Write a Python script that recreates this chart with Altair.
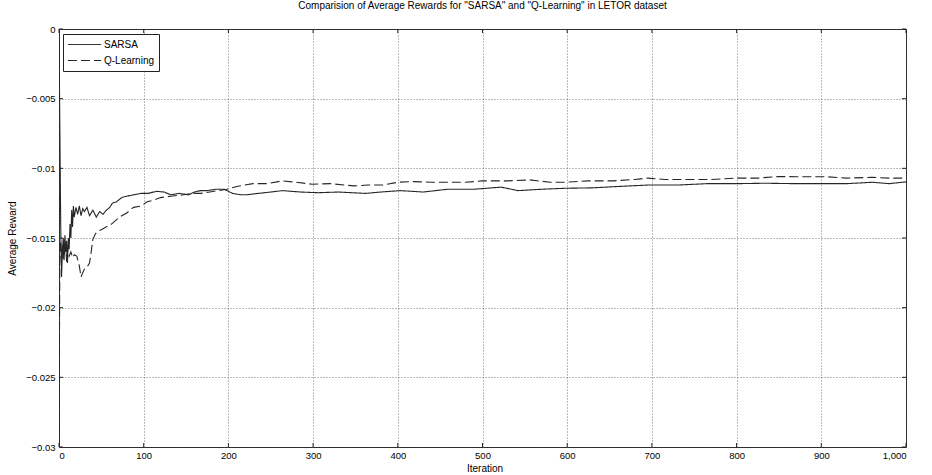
import altair as alt
import pandas as pd

# ---------------- data ----------------
sarsa_iter = [0, 1, 2, 3, 4, 5, 6, 7, 8, 9, 10, 11, 12, 13, 14, 15, 16, 17, 18,
              20, 22, 24, 26, 28, 30, 33, 36, 40, 44, 48, 52, 56, 60, 63, 68, 74,
              80, 88, 97, 105, 115, 124, 132, 142, 153, 160, 167, 175, 185, 195,
              205, 215, 222, 235, 250, 264, 285, 306, 330, 362, 380, 403, 430, 459,
              490, 522, 542, 570, 598, 630, 661, 695, 730, 765, 800, 834, 870, 904,
              930, 960, 980, 1000]
sarsa_val = [-0.0003, -0.0072, -0.0140, -0.0178, -0.0160, -0.0150, -0.0166, -0.0148,
             -0.0160, -0.0152, -0.0168, -0.0150, -0.0158, -0.0140, -0.0150, -0.0130,
             -0.0142, -0.0127, -0.0135,
             -0.0128, -0.0133, -0.0127, -0.0134, -0.0129, -0.0131, -0.0128, -0.0134,
             -0.0130, -0.0135, -0.0131, -0.0133, -0.0130, -0.0128, -0.0125, -0.0124,
             -0.0121,
             -0.0120, -0.0119, -0.0118, -0.0118, -0.01165, -0.0117, -0.0119, -0.0118,
             -0.0119, -0.0117, -0.0116, -0.0116, -0.0115, -0.0115,
             -0.0118, -0.0119, -0.0119, -0.0118, -0.0117, -0.0116, -0.0117, -0.01175,
             -0.0117, -0.0118, -0.0117, -0.0116, -0.0117, -0.0115,
             -0.0115, -0.01135, -0.0116, -0.0115, -0.01143, -0.0114, -0.0113, -0.0112,
             -0.0112, -0.0111, -0.0111, -0.01107, -0.0111, -0.0111,
             -0.0111, -0.0110, -0.0111, -0.01097]

qlearn_iter = [0, 1, 2, 3, 4, 5, 6, 7, 8, 9, 10, 12, 14, 16, 18, 21, 24, 26, 28, 31,
               34, 36, 38, 40, 43, 45, 50, 56, 62, 72, 80, 88, 97, 104, 111, 120,
               132, 147, 156, 167, 178, 188, 198, 210, 229, 245, 264, 280, 299, 320,
               348, 365, 382, 400, 417, 440, 459, 480, 500, 530, 556, 580, 598, 625,
               654, 680, 695, 715, 737, 770, 800, 825, 848, 870, 904, 930, 960, 980,
               1000]
qlearn_val = [-0.0300, -0.0160, -0.0152, -0.0168, -0.0155, -0.0165, -0.0151, -0.0162,
              -0.0156, -0.0167, -0.0158, -0.0163, -0.0160, -0.0164, -0.0162, -0.0163,
              -0.0170, -0.0178, -0.0175, -0.0171,
              -0.0170, -0.0168, -0.0160, -0.0151, -0.0147, -0.01455, -0.0144, -0.0142,
              -0.0140, -0.01347, -0.0132, -0.0128, -0.0127, -0.0124, -0.0123, -0.0121,
              -0.0120, -0.0119, -0.0118, -0.0118, -0.0117, -0.0116, -0.0115, -0.0113,
              -0.0111, -0.0111, -0.0109, -0.0110, -0.01114, -0.0111,
              -0.01126, -0.0112, -0.0112, -0.0110, -0.01095, -0.0110, -0.0110, -0.0110,
              -0.0109, -0.0109, -0.01083, -0.0110, -0.0110, -0.0109,
              -0.0109, -0.0108, -0.0107, -0.0108, -0.0108, -0.0108, -0.0107, -0.0107,
              -0.01059, -0.0106, -0.0106, -0.0107, -0.01065, -0.0107,
              -0.0107]

series_names = ["SARSA", "Q-Learning"]
x_ticks = [0, 100, 200, 300, 400, 500, 600, 700, 800, 900, 1000]
y_ticks = [0, -0.005, -0.01, -0.015, -0.02, -0.025, -0.03]

title_text = 'Comparision of Average Rewards for "SARSA" and "Q-Learning" in LETOR dataset'

# ---------------- build tables ----------------
df = pd.concat([
    pd.DataFrame({"Iteration": sarsa_iter, "Reward": sarsa_val, "Series": series_names[0]}),
    pd.DataFrame({"Iteration": qlearn_iter, "Reward": qlearn_val, "Series": series_names[1]}),
])
df["order"] = range(len(df))
xt = pd.DataFrame({"t": x_ticks})
yt = pd.DataFrame({"t": y_ticks})

W, H = 847, 418
FONT = "Liberation Sans"
LINE_COLOR = "#262626"

xscale = alt.Scale(domain=[0, 1000], nice=False, zero=False)
yscale = alt.Scale(domain=[-0.03, 0], nice=False, zero=False)


def make_legend():
    return alt.Legend(title=None, orient="none", legendX=4, legendY=5,
                      symbolType="stroke", symbolSize=1100, clipHeight=13,
                      symbolStrokeWidth=1, symbolStrokeColor=LINE_COLOR,
                      labelFontSize=10, labelFont=FONT, labelColor="black",
                      strokeColor="#222", fillColor="white",
                      padding=4, rowPadding=3, labelOffset=2)


lines = alt.Chart(df).mark_line(strokeWidth=1.1, clip=True).encode(
    x=alt.X("Iteration:Q", scale=xscale,
            axis=alt.Axis(values=x_ticks, format=",d", title="Iteration",
                          titleX=W / 2 + 2, titleY=21, titleBaseline="middle")),
    y=alt.Y("Reward:Q", scale=yscale,
            axis=alt.Axis(values=y_ticks, format="~g", title="Average Reward",
                          titleX=-47, titleY=H / 2, titleBaseline="middle",
                          titleAlign="center")),
    color=alt.Color("Series:N",
                    scale=alt.Scale(domain=series_names, range=[LINE_COLOR, LINE_COLOR]),
                    legend=make_legend()),
    strokeDash=alt.StrokeDash("Series:N",
                              scale=alt.Scale(domain=series_names, range=[[1, 0], [9, 4]]),
                              legend=make_legend()),
    order="order:Q",
)

tick_len = 4
xt_bottom = alt.Chart(xt).mark_rule(color="#222", strokeWidth=1).encode(
    x=alt.X("t:Q", scale=xscale), y=alt.value(H), y2=alt.value(H - tick_len))
xt_top = alt.Chart(xt).mark_rule(color="#222", strokeWidth=1).encode(
    x=alt.X("t:Q", scale=xscale), y=alt.value(0), y2=alt.value(tick_len))
yt_left = alt.Chart(yt).mark_rule(color="#222", strokeWidth=1).encode(
    y=alt.Y("t:Q", scale=yscale), x=alt.value(0), x2=alt.value(tick_len))
yt_right = alt.Chart(yt).mark_rule(color="#222", strokeWidth=1).encode(
    y=alt.Y("t:Q", scale=yscale), x=alt.value(W), x2=alt.value(W - tick_len))

chart = alt.layer(lines, xt_bottom, xt_top, yt_left, yt_right).properties(
    width=W, height=H,
    title=alt.Title(title_text, fontSize=10, fontWeight="normal", font=FONT,
                    color="black", offset=13, anchor="middle"),
    autosize=alt.AutoSizeParams(type="none"),
    padding={"left": 59, "top": 29, "right": 26, "bottom": 28},
).configure_view(
    stroke="#222", strokeWidth=1
).configure_axis(
    grid=True, gridDash=[1, 2], gridColor="#555", gridWidth=0.8, gridOpacity=1,
    domain=False, ticks=False,
    labelFont=FONT, labelFontSize=9.5, labelColor="black",
    titleFont=FONT, titleFontSize=10, titleFontWeight="normal", titleColor="black",
).configure_axisX(labelPadding=3).configure_axisY(labelPadding=4)

chart.save("out.html", embed_options={"renderer": "svg", "actions": False})
